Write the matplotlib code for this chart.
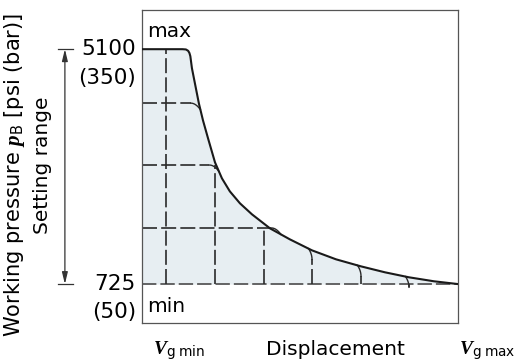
# 가변 용적 펌프의 압력-용적 특성 곡선 (출력 제어)

import numpy as np
import matplotlib.pyplot as plt

# 폰트
plt.rcParams['font.family'] = ['DejaVu Sans']
plt.rcParams['mathtext.fontset'] = 'custom'
plt.rcParams['mathtext.rm'] = 'DejaVu Sans'
plt.rcParams['mathtext.it'] = 'Liberation Serif:italic:bold'
plt.rcParams['mathtext.bf'] = 'Liberation Serif:bold'

# 데이터 (용적 0..100 %, 압력 psi)
disp = [0, 12.8, 13.9, 14.6, 15.0, 15.3, 15.8, 16.8, 18.0, 19.3, 20.9, 23.1, 25.3,
        27.8, 31.0, 34.8, 40.5, 46.8, 53.8, 61.4, 69.3, 76.9, 84.5, 92.4, 100]
press = [5100, 5100, 5095, 5070, 5030, 4969, 4746, 4448, 4090, 3774, 3439, 2992, 2694,
         2452, 2229, 2024, 1763, 1558, 1353, 1186, 1055, 944, 851, 777, 725]
p_min, p_max = 725, 5100
set_levels = [4095, 2942, 1770]               # 압력 설정선
set_disp = [7.6, 23.1, 38.6, 53.8, 69.3, 84.5]  # 용적 설정선

line_c = '#1a1a1a'
dash_c = '#2a2a2a'
fill_c = '#e7eef2'
fs = 14.5
fs_num = 15.5

fig = plt.figure(figsize=(5.16, 3.61), dpi=100)
ax = fig.add_axes([142 / 516, 38 / 361, 316 / 516, 313 / 361])
ax.set_xlim(0, 100)
ax.set_ylim(0, 5830)
ax.set_xticks([])
ax.set_yticks([])
for s in ax.spines.values():
    s.set_color('#555555')
    s.set_linewidth(0.9)


def curve_p(x):
    return np.interp(x, disp, press)


def curve_x(p):
    return np.interp(p, press[::-1], disp[::-1])


# 영역 채우기
ax.fill_between(disp, press, p_min, color=fill_c, lw=0, zorder=1)

dash = (9.0, 2.5)
t = np.linspace(0, 1, 20)
# 최소 압력선
ax.plot([0, 100], [p_min, p_min], color='#444444', lw=1.15, dashes=dash, zorder=2)

# 압력 설정선 (끝부분은 곡선으로 꺾임)
for lv in set_levels:
    xe = curve_x(lv - 120)
    ax.plot([0, xe - 3], [lv, lv], color=dash_c, lw=1.2, dashes=dash, zorder=2)
    ax.plot(xe - 3 + 3 * t, lv - 120 * t ** 2, color=dash_c, lw=1.0, zorder=2)

# 용적 설정선
for xv in set_disp:
    cp = curve_p(xv)
    lower = [v for v in [p_max] + set_levels if v <= cp + 1]
    if lower:
        ax.plot([xv, xv], [p_min, max(lower)], color=dash_c, lw=1.2, dashes=dash, zorder=2)
    else:
        xa = xv - 1.1
        ya = curve_p(xa)
        ax.plot([xv, xv], [p_min, ya - 200], color=dash_c, lw=1.2, dashes=dash, zorder=2)
        ax.plot(xv - 1.1 * t ** 2, ya - 200 + 200 * t, color=dash_c, lw=1.0, zorder=2)

# 특성 곡선
ax.plot(disp, press, color=line_c, lw=1.5, zorder=3, solid_capstyle='round')

# max / min
ax.text(1.5, 5323, 'max', fontsize=fs, va='baseline', ha='left')
ax.text(1.5, 204, 'min', fontsize=fs, va='baseline', ha='left')

# 압력 라벨
ytr = ax.get_yaxis_transform()
ax.annotate('5100', (0, p_max), xycoords=ytr, xytext=(-6, 0), textcoords='offset pixels',
            ha='right', va='center', fontsize=fs_num)
ax.annotate('(350)', (0, p_max), xycoords=ytr, xytext=(-6, -29), textcoords='offset pixels',
            ha='right', va='center', fontsize=fs_num)
ax.annotate('725', (0, p_min), xycoords=ytr, xytext=(-6, 0), textcoords='offset pixels',
            ha='right', va='center', fontsize=fs_num)
ax.annotate('(50)', (0, p_min), xycoords=ytr, xytext=(-6, -28), textcoords='offset pixels',
            ha='right', va='center', fontsize=fs_num)

# 설정 범위 화살표
ax.plot([-0.265, -0.218], [p_max, p_max], transform=ytr, color='#333333', lw=0.9, clip_on=False)
ax.plot([-0.265, -0.218], [p_min, p_min], transform=ytr, color='#333333', lw=0.9, clip_on=False)
ax.annotate('', xy=(-0.244, p_max), xytext=(-0.244, p_min), xycoords=ytr, textcoords=ytr,
            arrowprops=dict(arrowstyle='<|-|>,head_length=0.7,head_width=0.17',
                            color='#333333', lw=0.9, shrinkA=0, shrinkB=0))

fig.text(42 / 516, 1 - 165 / 361, 'Setting range', rotation=90, fontsize=fs,
         ha='center', va='center')
fig.text(15 / 516, 1 - 175 / 361, r'Working pressure $p_{\mathrm{B}}$ [psi (bar)]',
         rotation=90, fontsize=15.1, ha='center', va='center')

# x 축 라벨
fig.text(153 / 516, 1 - 354 / 361, r'$V_{\mathrm{g\ min}}$', fontsize=14, ha='left', va='baseline')
fig.text(335 / 516, 1 - 355 / 361, 'Displacement', fontsize=fs, ha='center', va='baseline')
fig.text(459 / 516, 1 - 354 / 361, r'$V_{\mathrm{g\ max}}$', fontsize=14, ha='left', va='baseline')

plt.savefig('out.png', dpi=100)
